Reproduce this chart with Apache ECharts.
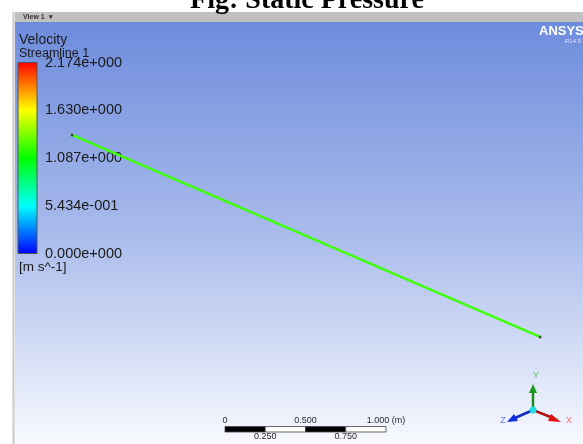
<!DOCTYPE html>
<html>
<head>
<meta charset="utf-8">
<script src="https://cdn.jsdelivr.net/npm/echarts@6/dist/echarts.min.js"></script>
<style>
  html, body { margin: 0; padding: 0; background: #ffffff; }
  #chart { width: 583px; height: 444px; }
</style>
</head>
<body>
<div id="chart"></div>
<script>
// Streamline path in view coordinates (metres)
const streamX = [0.355, 3.267];
const streamY = [1.923, 0.666];

// Velocity colour legend
const velocityMin = 0;
const velocityMax = 2.174;
const colorbarLabels = ['0.000e+000', '5.434e-001', '1.087e+000', '1.630e+000', '2.174e+000'];
const colorbarStops = ['#ff0000', '#ffff00', '#00ff00', '#00ffff', '#0000ff'];

// Length scale (metres)
const scaleSegments = [0, 0.25, 0.5, 0.75];
const scaleTopTicks = [0, 0.5, 1.0];
const scaleTopLabels = ['0', '0.500', '1.000 (m)'];
const scaleBottomTicks = [0.25, 0.75];
const scaleBottomLabels = ['0.250', '0.750'];

const chart = echarts.init(document.getElementById('chart'), null, { renderer: 'canvas' });

const sans = 'Liberation Sans, Arial, sans-serif';

const option = {
  animation: false,
  backgroundColor: '#ffffff',
  graphic: [
    // viewport background
    {
      type: 'rect', z: -10, silent: true,
      shape: { x: 15, y: 22, width: 568, height: 422 },
      style: {
        fill: new echarts.graphic.LinearGradient(0, 0, 0, 1, [
          { offset: 0, color: '#6d8cdd' },
          { offset: 0.5, color: '#a9bbeb' },
          { offset: 1, color: '#f7f9fe' }
        ])
      }
    },
    // viewport tab bar
    {
      type: 'rect', z: -10, silent: true,
      shape: { x: 15, y: 12, width: 568, height: 10 },
      style: { fill: '#c0c0c0' }
    },
    {
      type: 'line', z: -9, silent: true,
      shape: { x1: 13.5, y1: 12, x2: 13.5, y2: 444 },
      style: { stroke: '#c9c9c9', lineWidth: 2 }
    },
    {
      type: 'text', silent: true,
      style: { text: 'View 1  \u25BE', x: 23, y: 17, textVerticalAlign: 'middle', font: 'bold 7px ' + sans, fill: '#333333' }
    },
    // figure caption
    {
      type: 'text', silent: true,
      style: {
        text: 'Fig: Static Pressure', x: 307, y: 1, textAlign: 'center', textVerticalAlign: 'middle',
        font: 'bold 28px "Liberation Serif", "Times New Roman", serif', fill: '#000000'
      }
    },
    // logo
    {
      type: 'text', silent: true,
      style: { text: 'ANSYS', x: 539, y: 31.5, textVerticalAlign: 'middle', font: 'bold 13px ' + sans, fill: '#ffffff' }
    },
    {
      type: 'text', silent: true,
      style: { text: 'R14.5', x: 565, y: 41.5, textVerticalAlign: 'middle', font: '6px ' + sans, fill: '#dfe6fa' }
    },
    // legend headings
    {
      type: 'text', silent: true,
      style: { text: 'Velocity', x: 19, y: 40.5, textVerticalAlign: 'middle', font: '14px ' + sans, fill: '#1a1a1a' }
    },
    {
      type: 'text', silent: true,
      style: { text: 'Streamline 1', x: 19, y: 53.5, textVerticalAlign: 'middle', font: '12.5px ' + sans, fill: '#1a1a1a' }
    },
    {
      type: 'text', silent: true,
      style: { text: '[m s^-1]', x: 19, y: 267.5, textVerticalAlign: 'middle', font: '13.5px ' + sans, fill: '#1a1a1a' }
    },
    // coordinate triad
    {
      type: 'group', silent: true,
      children: [
        { type: 'line', shape: { x1: 533, y1: 410, x2: 533, y2: 392 }, style: { stroke: '#1f8a1f', lineWidth: 2.5 } },
        { type: 'polygon', shape: { points: [[533, 384], [529, 393], [537, 393]] }, style: { fill: '#1a9a1a' } },
        { type: 'line', shape: { x1: 533, y1: 410, x2: 553, y2: 418 }, style: { stroke: '#b01010', lineWidth: 2.5 } },
        { type: 'polygon', shape: { points: [[561, 422], [551, 414], [548, 421]] }, style: { fill: '#e01010' } },
        { type: 'line', shape: { x1: 533, y1: 410, x2: 515, y2: 418 }, style: { stroke: '#1028c0', lineWidth: 2.5 } },
        { type: 'polygon', shape: { points: [[507, 422], [514, 414], [518, 421]] }, style: { fill: '#1030e0' } },
        { type: 'circle', shape: { cx: 533, cy: 410, r: 3.5 }, style: { fill: '#22dde0' } },
        { type: 'text', style: { text: 'Y', x: 536, y: 376, textAlign: 'center', textVerticalAlign: 'middle', font: '9px ' + sans, fill: '#5fbf5f' } },
        { type: 'text', style: { text: 'X', x: 569, y: 421, textAlign: 'center', textVerticalAlign: 'middle', font: '9px ' + sans, fill: '#ef7070' } },
        { type: 'text', style: { text: 'Z', x: 503, y: 421, textAlign: 'center', textVerticalAlign: 'middle', font: '9px ' + sans, fill: '#6a7ae8' } }
      ]
    }
  ],
  grid: [
    // 3-D viewport
    { left: 15, top: 22, right: 0, bottom: 0 },
    // colour bar
    { left: 18, top: 62.5, width: 19, height: 191 },
    // length scale
    { left: 225, top: 426.5, width: 161, height: 5.5 }
  ],
  xAxis: [
    { gridIndex: 0, type: 'value', min: 0, max: 3.534, show: false },
    { gridIndex: 1, type: 'value', min: 0, max: 1, show: false },
    { gridIndex: 2, type: 'value', min: 0, max: 1, show: false }
  ],
  yAxis: [
    { gridIndex: 0, type: 'value', min: 0, max: 2.626, show: false },
    {
      gridIndex: 1, type: 'value', position: 'right',
      min: velocityMin, max: velocityMax, interval: (velocityMax - velocityMin) / 4,
      splitLine: { show: false },
      axisLine: { show: false },
      axisTick: { show: true, length: 4, inside: false, lineStyle: { color: '#555555', width: 1 } },
      axisLabel: {
        margin: 8, color: '#1a1a1a', fontFamily: sans, fontSize: 14.5,
        padding: [3, 0, 0, 0],
        formatter: (v, i) => colorbarLabels[i]
      }
    },
    { gridIndex: 2, type: 'value', min: 0, max: 1, show: false }
  ],
  series: [
    {
      type: 'line', xAxisIndex: 0, yAxisIndex: 0,
      data: streamX.map((x, i) => [x, streamY[i]]),
      lineStyle: { color: '#3cff08', width: 2.5 },
      showSymbol: true, symbol: 'circle', symbolSize: 3,
      itemStyle: { color: '#2f5a2f' },
      silent: true
    },
    {
      type: 'custom', xAxisIndex: 1, yAxisIndex: 1, silent: true,
      data: [[0, velocityMax]],
      renderItem: (params, api) => {
        const p0 = api.coord([0, velocityMax]);
        const p1 = api.coord([1, velocityMin]);
        return {
          type: 'rect',
          shape: { x: p0[0], y: p0[1], width: p1[0] - p0[0], height: p1[1] - p0[1] },
          style: {
            fill: new echarts.graphic.LinearGradient(0, 0, 0, 1,
              colorbarStops.map((c, k) => ({ offset: k / (colorbarStops.length - 1), color: c }))),
            stroke: '#555555', lineWidth: 1
          }
        };
      }
    },
    {
      type: 'custom', xAxisIndex: 2, yAxisIndex: 2, silent: true,
      data: scaleSegments.map((s, i) => [s, i]),
      renderItem: (params, api) => {
        const s = api.value(0);
        const idx = api.value(1);
        const p0 = api.coord([s, 1]);
        const p1 = api.coord([s + 0.25, 0]);
        return {
          type: 'rect',
          shape: { x: p0[0], y: p0[1], width: p1[0] - p0[0], height: p1[1] - p0[1] },
          style: { fill: idx % 2 === 0 ? '#000000' : '#ffffff', stroke: '#444444', lineWidth: 0.8 }
        };
      }
    },
    {
      type: 'custom', xAxisIndex: 2, yAxisIndex: 2, silent: true,
      data: scaleTopTicks.map((t, i) => [t, i]),
      renderItem: (params, api) => {
        const p = api.coord([api.value(0), 1]);
        return {
          type: 'text',
          style: {
            text: scaleTopLabels[api.value(1)], x: p[0], y: p[1] - 5.5,
            textAlign: 'center', textVerticalAlign: 'middle', font: '9px ' + sans, fill: '#2a2a2a'
          }
        };
      }
    },
    {
      type: 'custom', xAxisIndex: 2, yAxisIndex: 2, silent: true,
      data: scaleBottomTicks.map((t, i) => [t, i]),
      renderItem: (params, api) => {
        const p = api.coord([api.value(0), 0]);
        return {
          type: 'text',
          style: {
            text: scaleBottomLabels[api.value(1)], x: p[0], y: p[1] + 5,
            textAlign: 'center', textVerticalAlign: 'middle', font: '9px ' + sans, fill: '#2a2a2a'
          }
        };
      }
    }
  ]
};

chart.setOption(option);
</script>
</body>
</html>
